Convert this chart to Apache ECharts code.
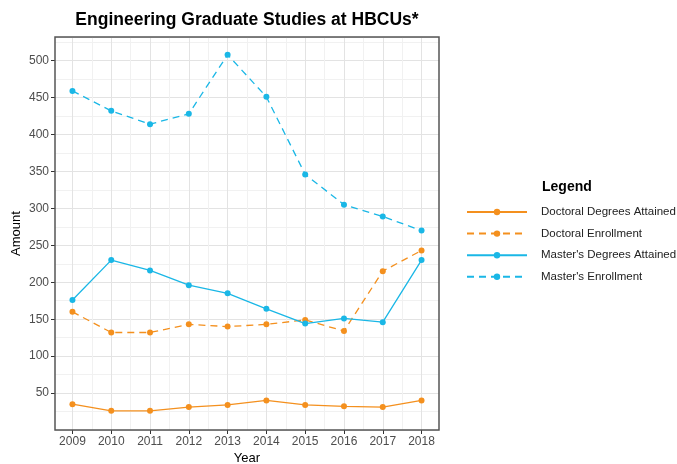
<!DOCTYPE html>
<html>
<head>
<meta charset="utf-8">
<script src="https://cdn.jsdelivr.net/npm/echarts@6/dist/echarts.min.js"></script>
<style>html,body{margin:0;padding:0;background:#fff;}#c{width:677px;height:464px;}</style>
</head>
<body>
<div id="c"></div>
<script>
const years = [2009, 2010, 2011, 2012, 2013, 2014, 2015, 2016, 2017, 2018];
const yTicks = [50, 100, 150, 200, 250, 300, 350, 400, 450, 500];
const doctoralDegrees = [35, 26, 26, 31, 34, 40, 34, 32, 31, 40];
const doctoralEnrollment = [160, 132, 132, 143, 140, 143, 149, 134, 215, 243];
const mastersDegrees = [176, 230, 216, 196, 185, 164, 144, 151, 146, 230];
const mastersEnrollment = [459, 432, 414, 428, 508, 451, 346, 305, 289, 270];
const seriesNames = ['Doctoral Degrees Attained', 'Doctoral Enrollment', "Master's Degrees Attained", "Master's Enrollment"];

const ORANGE = '#F4901E', BLUE = '#1AB7E6';
const MAJOR = '#E3E3E3', MINOR = '#F1F1F1';
const FONT = 'Liberation Sans, Arial, sans-serif';

// x split-line colours: ticks every 0.05 starting at 2008.55; integer years at index 9 (mod 20), halves at 19
const xSplitColors = [];
for (let i = 0; i < 20; i++) xSplitColors.push(i === 9 ? MAJOR : (i === 19 ? MINOR : 'rgba(0,0,0,0)'));

function pairs(vals) { return years.map((y, i) => [y, vals[i]]); }
function mk(name, vals, color, dashed) {
  return {
    name, type: 'line', xAxisIndex: 0, yAxisIndex: 0,
    data: pairs(vals),
    symbol: 'circle', symbolSize: 6,
    itemStyle: { color },
    lineStyle: { color, width: 1.3, type: dashed ? [7, 5] : 'solid' },
    emphasis: { disabled: true }
  };
}

const chart = echarts.init(document.getElementById('c'), null, { renderer: 'canvas' });
chart.setOption({
  animation: false,
  backgroundColor: '#fff',
  textStyle: { fontFamily: FONT },
  title: [
    { text: 'Engineering Graduate Studies at HBCUs*', left: 247, top: 11, textAlign: 'center', padding: 0,
      textStyle: { fontSize: 17.5, fontWeight: 'bold', color: '#000', fontFamily: FONT } },
    { text: 'Legend', left: 542, top: 180, padding: 0,
      textStyle: { fontSize: 14, fontWeight: 'bold', color: '#000', fontFamily: FONT } }
  ],
  grid: { left: 55, right: 238, top: 37, bottom: 34, outerBoundsMode: 'none', containLabel: false, show: true,
          borderColor: '#555', borderWidth: 1.5, backgroundColor: 'transparent', z: 5 },
  legend: {
    orient: 'vertical', left: 466, top: 206, itemWidth: 60, itemHeight: 8, itemGap: 9.6, padding: 0,
    data: seriesNames,
    textStyle: { fontSize: 11.5, color: '#222', fontFamily: FONT, padding: [0, 0, 0, 9] },
    selectedMode: false
  },
  xAxis: [
    { type: 'value', min: 2008.55, max: 2018.45, interval: 0.05, position: 'bottom',
      axisLine: { show: false }, axisTick: { show: false },
      axisLabel: { show: false },
      splitLine: { show: true, lineStyle: { color: xSplitColors, width: 1 } },
      name: 'Year', nameLocation: 'middle', nameGap: 22,
      nameTextStyle: { fontSize: 13, color: '#000', fontFamily: FONT } },
    { type: 'value', min: 2008.55, max: 2018.45, position: 'bottom',
      axisLine: { show: false },
      axisTick: { show: true, length: 4, customValues: years, lineStyle: { color: '#333' } },
      axisLabel: { show: true, customValues: years, margin: 6, fontSize: 12, color: '#4D4D4D', fontFamily: FONT,
                   formatter: v => String(v) },
      splitLine: { show: false } }
  ],
  yAxis: [
    { type: 'value', min: 0, max: 532, interval: 25,
      axisLine: { show: false }, axisTick: { show: false }, axisLabel: { show: false },
      splitLine: { show: true, lineStyle: { color: [MAJOR, MINOR], width: 1 } },
      name: 'Amount', nameLocation: 'middle', nameGap: 32, nameRotate: 90,
      nameTextStyle: { fontSize: 13, color: '#000', fontFamily: FONT } },
    { type: 'value', min: 0, max: 532, position: 'left',
      axisLine: { show: false },
      axisTick: { show: true, length: 4, customValues: yTicks, lineStyle: { color: '#333' } },
      axisLabel: { show: true, customValues: yTicks, margin: 6, fontSize: 12, color: '#4D4D4D', fontFamily: FONT },
      splitLine: { show: false } }
  ],
  series: [
    mk(seriesNames[0], doctoralDegrees, ORANGE, false),
    mk(seriesNames[1], doctoralEnrollment, ORANGE, true),
    mk(seriesNames[2], mastersDegrees, BLUE, false),
    mk(seriesNames[3], mastersEnrollment, BLUE, true)
  ]
});
</script>
</body>
</html>
